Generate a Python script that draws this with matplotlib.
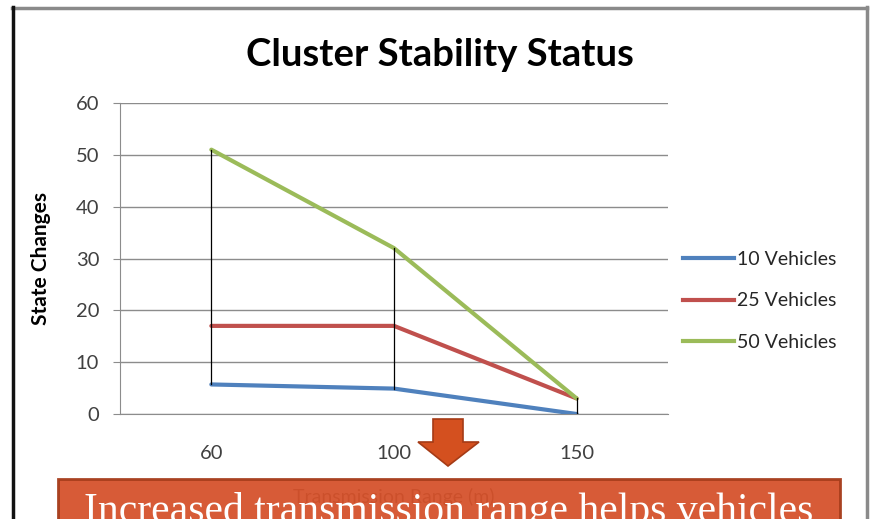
import matplotlib
matplotlib.use("Agg")
import matplotlib.pyplot as plt
from matplotlib.patches import Polygon, Rectangle
from matplotlib.lines import Line2D

categories = ["60", "100", "150"]
series_names = ["10 Vehicles", "25 Vehicles", "50 Vehicles"]
v10 = [5.7, 4.9, 0]
v25 = [17, 17, 3]
v50 = [51, 32, 3]
yticks = [0, 10, 20, 30, 40, 50, 60]
colors = ["#4F81BD", "#C0504D", "#9BBB59"]

W, H = 872, 519
fig = plt.figure(figsize=(W / 100, H / 100), dpi=100)
fig.patch.set_facecolor("white")

def fx(px):
    return px / W

def fy(py):
    return 1 - py / H

FONT = "Lato"

ax = fig.add_axes([fx(120), fy(414), fx(668) - fx(120), fy(103) - fy(414)])
x = list(range(len(categories)))
series = [v10, v25, v50]
for vals, c, name in zip(series, colors, series_names):
    ax.plot(x, vals, color=c, lw=3, label=name, solid_capstyle="round", zorder=3)

# drop lines from max to min at each category
for i in x:
    col = [s[i] for s in series]
    ax.plot([i, i], [min(col), max(col)], color="black", lw=0.9, zorder=4)

ax.set_xlim(-0.5, 2.5)
ax.set_ylim(0, 60)
ax.set_yticks(yticks)
ax.set_xticks(x)
ax.set_xticklabels(categories)
ax.grid(axis="y", color="#8c8c8c", lw=1)
ax.set_axisbelow(True)
for s in ["top", "right"]:
    ax.spines[s].set_visible(False)
ax.spines["left"].set_color("#8c8c8c")
ax.spines["bottom"].set_color("#8c8c8c")
ax.tick_params(axis="y", length=5, color="#8c8c8c", labelsize=14.5, labelcolor="#404040", pad=10)
ax.tick_params(axis="x", length=0, labelsize=14.5, labelcolor="#404040", pad=22)
for lab in ax.get_xticklabels() + ax.get_yticklabels():
    lab.set_fontfamily(FONT)

ax.set_ylabel("State Changes", fontsize=15, fontweight="bold", fontfamily=FONT)
ax.yaxis.set_label_coords((51 - 120) / (668 - 120), 0.5)

fig.text(fx(440), fy(55), "Cluster Stability Status", ha="center", va="center",
         fontsize=27.5, fontweight="bold", fontfamily=FONT)

# x axis label (partly hidden behind box)
fig.text(fx(394), fy(497), "Transmission Range (m)", ha="center", va="center",
         fontsize=14, fontfamily=FONT, color="#404040", zorder=2)

leg = fig.legend(handles=[Line2D([], [], color=c, lw=3) for c in colors], labels=series_names,
                 loc="center left", bbox_to_anchor=(fx(683), fy(301)), frameon=False,
                 borderpad=0, borderaxespad=0,
                 handlelength=2.6, handletextpad=0.2, labelspacing=1.25,
                 prop={"family": FONT, "size": 14})
for t in leg.get_texts():
    t.set_color("#262626")

# frame
fig.add_artist(Line2D([fx(12), fx(867)], [fy(8), fy(8)], color="#8a8a8a", lw=2.5))
fig.add_artist(Line2D([fx(13), fx(13)], [fy(7), fy(519)], color="#111111", lw=2.5))
fig.add_artist(Line2D([fx(867), fx(867)], [fy(7), fy(519)], color="#8a8a8a", lw=2.5))

# arrow
pts = [(433, 419), (463, 419), (463, 442), (479, 442), (448, 466), (418, 442), (433, 442)]
fig.add_artist(Polygon([(fx(a), fy(b)) for a, b in pts], closed=True, facecolor="#D4501F",
                       edgecolor="#A53B16", lw=1.2, transform=fig.transFigure, zorder=5))

# box
fig.add_artist(Rectangle((fx(58), fy(530)), fx(840) - fx(58), fy(479) - fy(530),
                         facecolor="#D5512A", edgecolor="#A53B1A", lw=2, alpha=0.94,
                         transform=fig.transFigure, zorder=5))
fig.text(fx(449), fy(522), "Increased transmission range helps vehicles", ha="center",
         va="baseline", fontsize=30, fontfamily="Liberation Serif", color="white", zorder=6)

fig.savefig("out.png", dpi=100)
